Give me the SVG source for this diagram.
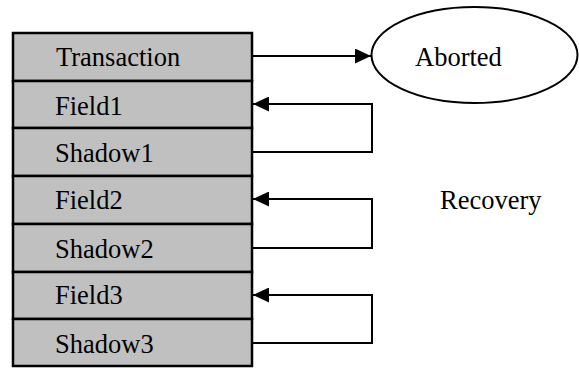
<svg xmlns="http://www.w3.org/2000/svg" width="579" height="368" viewBox="0 0 579 368">
<defs>
<style>
.cell{fill:#c0c0c0;stroke:#000;stroke-width:2.5}
.t{font-family:"Liberation Serif","Times New Roman",serif;font-size:26.5px;fill:#000}
.c{fill:none;stroke:#000;stroke-width:2}
</style>
<marker id="ah" markerWidth="16" markerHeight="15" refX="16" refY="7.5" orient="auto" markerUnits="userSpaceOnUse">
<path d="M0,0 L16,7.5 L0,15 Z" fill="#000"/>
</marker>
</defs>
<g id="transaction"><rect class="cell" x="13" y="33" width="239" height="48"/><text class="t" x="56" y="66">Transaction</text></g>
<g id="field1"><rect class="cell" x="13" y="81" width="239" height="47"/><text class="t" x="55" y="115">Field1</text></g>
<g id="shadow1"><rect class="cell" x="13" y="128" width="239" height="48"/><text class="t" x="55" y="162">Shadow1</text></g>
<g id="field2"><rect class="cell" x="13" y="176" width="239" height="48"/><text class="t" x="55" y="209">Field2</text></g>
<g id="shadow2"><rect class="cell" x="13" y="224" width="239" height="48"/><text class="t" x="55" y="258">Shadow2</text></g>
<g id="field3"><rect class="cell" x="13" y="272" width="239" height="47"/><text class="t" x="55" y="304">Field3</text></g>
<g id="shadow3"><rect class="cell" x="13" y="319" width="239" height="47"/><text class="t" x="55" y="353">Shadow3</text></g>
<g id="aborted"><ellipse cx="474.5" cy="55" rx="103" ry="48" fill="none" stroke="#000" stroke-width="2"/><text class="t" x="415" y="66">Aborted</text></g>
<g id="recovery"><text class="t" x="440" y="209">Recovery</text></g>
<g id="connectors">
<line class="c" x1="252" y1="56" x2="371" y2="56" marker-end="url(#ah)"/>
<polyline class="c" points="253,152 372,152 372,104 253,104" marker-end="url(#ah)"/>
<polyline class="c" points="253,248 372,248 372,199 253,199" marker-end="url(#ah)"/>
<polyline class="c" points="253,343 372,343 372,295 253,295" marker-end="url(#ah)"/>
</g>
</svg>
